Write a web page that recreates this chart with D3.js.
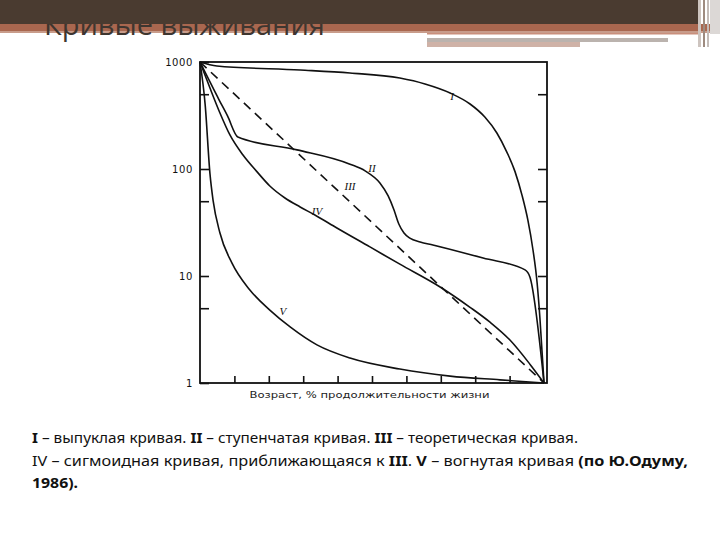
<!DOCTYPE html>
<html>
<head>
<meta charset="utf-8">
<script src="https://cdn.jsdelivr.net/npm/d3@7"></script>
<style>
  body { margin: 0; background: #fff; }
  svg { display: block; }
</style>
</head>
<body>
<div id="chart-area"></div>
<script>
// Survival curves (after Odum, 1986), log scale

var ageTicks = [10, 20, 30, 40, 50, 60, 70, 80, 90];
var survTicks = [1, 5, 10, 50, 100, 500, 1000];
var survLabels = [1, 10, 100, 1000];

// [age %, survivors]
var curveI = [[0,1000],[4.9,918],[29.1,842],[43.6,789],[58.1,708],[65.4,623],[72.7,513],[78.5,405],[82.8,306],[86.3,217],[89.2,144],[91.6,94],[93.6,57],[95.3,33.4],[96.8,17.5],[98,8.6],[98.8,4.1],[99.4,2.03],[100,1]];
var curveII = [[0,1000],[5.5,446],[8,313],[11,199],[28.2,151],[43.6,111],[48,96],[52.3,74],[54.7,56],[56.4,41.4],[57.8,30.6],[59.3,25.2],[61,22.6],[64,20.8],[67.7,19.5],[82.3,14.7],[94.5,11.4],[95.9,9.8],[100,1]];
var curveIII = [[0,1000],[100,1]];
var curveIV = [[0,1000],[2.9,571],[5.8,334],[8.7,208],[12.5,135],[16.6,94],[20.3,69.4],[24.7,53.6],[29.1,44.2],[33.4,37.2],[39.8,28.1],[49.4,18.7],[58.1,12.9],[69.8,7.9],[78.5,5.1],[84.3,3.7],[90.1,2.52],[95.9,1.5],[100,1]];
var curveV = [[0,1000],[1.5,400],[2.9,90],[3.8,51],[5.8,25.2],[9.3,13.2],[14.5,7.4],[20.3,4.8],[26.2,3.34],[34,2.27],[43.6,1.71],[58.1,1.35],[72.7,1.16],[87.2,1.07],[100,1]];

var curveNames = ["I", "II", "III", "IV", "V"];
// label anchor points [age %, survivors]
var labelPos = [[73.3,441],[50,94],[43.6,64],[34,37],[24.1,4.3]];

var captionLines = [
  [["I", true], [" – выпуклая кривая. ", false], ["II", true], [" – ступенчатая кривая. ", false], ["III", true], [" – теоретическая кривая.", false]],
  [["IV", false], [" – сигмоидная кривая, приближающаяся к ", false], ["III", true], [". ", false], ["V", true], [" – вогнутая кривая ", false], ["(по Ю.Одуму,", true]],
  [["1986).", true]]
];
var captionWidths = [546, 656, 46];

var svg = d3.select("#chart-area")
  .append("svg")
  .attr("width", 720)
  .attr("height", 540);

/* slide header */
svg.append("rect").attr("x", 0).attr("y", 24).attr("width", 712).attr("height", 8).attr("fill", "#a9674f");
svg.append("rect").attr("x", 0).attr("y", 31).attr("width", 712).attr("height", 2).attr("fill", "#c89c8b");
svg.append("text")
  .attr("x", 44)
  .attr("y", 35)
  .attr("font-family", "Open Sans, sans-serif")
  .attr("font-size", "29px")
  .attr("fill", "#3e3630")
  .text("Кривые выживания");
svg.append("rect").attr("x", 0).attr("y", 0).attr("width", 698).attr("height", 24).attr("fill", "#4a3b30");
svg.append("rect").attr("x", 427).attr("y", 33).attr("width", 273).attr("height", 1.5).attr("fill", "#c98f7c");
svg.append("rect").attr("x", 427).attr("y", 38).attr("width", 241).attr("height", 4).attr("fill", "#bbb3ae");
svg.append("rect").attr("x", 427).attr("y", 42).attr("width", 153).attr("height", 5).attr("fill", "#cfb2a7");
svg.append("rect").attr("x", 698).attr("y", 0).attr("width", 3).attr("height", 47).attr("fill", "#cdc4bf");
svg.append("rect").attr("x", 703).attr("y", 0).attr("width", 2).attr("height", 47).attr("fill", "#9e8b80");
svg.append("rect").attr("x", 707).attr("y", 0).attr("width", 2).attr("height", 47).attr("fill", "#c4bcb8");
svg.append("rect").attr("x", 710).attr("y", 0).attr("width", 10).attr("height", 34).attr("fill", "#dcd8d6");

/* scales */
var x = d3.scaleLinear().domain([0, 100]).range([200, 544]);
var y = d3.scaleLog().domain([1, 1000]).range([383, 62]);
var xRight = x(100) + 3;

var g = svg.append("g");

// frame
g.append("rect")
  .attr("x", x(0))
  .attr("y", y(1000))
  .attr("width", xRight - x(0))
  .attr("height", y(1) - y(1000))
  .attr("fill", "none")
  .attr("stroke", "#111")
  .attr("stroke-width", 1.8);

// left axis
var yAxisCall = d3.axisLeft(y)
  .tickValues(survTicks)
  .tickSizeInner(-9)
  .tickSizeOuter(0)
  .tickPadding(7)
  .tickFormat(function(d) { return survLabels.indexOf(d) >= 0 ? d : ""; });
var yAxis = g.append("g")
  .attr("transform", "translate(" + x(0) + ",0)")
  .call(yAxisCall);

// right axis (ticks only)
var yAxisRight = g.append("g")
  .attr("transform", "translate(" + xRight + ",0)")
  .call(d3.axisRight(y).tickValues(survTicks.slice(1, -1)).tickSizeInner(-9).tickSizeOuter(0).tickFormat(""));

// bottom axis
var xAxis = g.append("g")
  .attr("transform", "translate(0," + y(1) + ")")
  .call(d3.axisBottom(x).tickValues(ageTicks).tickSizeInner(-7).tickSizeOuter(0).tickFormat(""));

[yAxis, yAxisRight, xAxis].forEach(function(a) {
  a.select(".domain").remove();
  a.selectAll("line").attr("stroke", "#111").attr("stroke-width", 1.6);
});
yAxis.selectAll("text")
  .attr("font-family", "DejaVu Sans, sans-serif")
  .attr("font-size", "10px")
  .attr("letter-spacing", "0.6px")
  .attr("fill", "#111");

// x axis label
g.append("text")
  .attr("x", (x(0) + xRight) / 2 - 4)
  .attr("y", 398)
  .attr("text-anchor", "middle")
  .attr("font-family", "DejaVu Sans, sans-serif")
  .attr("font-size", "9.5px")
  .attr("textLength", 240)
  .attr("lengthAdjust", "spacingAndGlyphs")
  .attr("fill", "#222")
  .text("Возраст, % продолжительности жизни");

/* curves */
var line = d3.line()
  .x(function(d) { return x(d[0]); })
  .y(function(d) { return y(d[1]); })
  .curve(d3.curveMonotoneX);

var curves = [curveI, curveII, curveIII, curveIV, curveV];
g.selectAll("path.curve")
  .data(curves)
  .enter()
  .append("path")
    .attr("class", "curve")
    .attr("d", line)
    .attr("fill", "none")
    .attr("stroke", "#111")
    .attr("stroke-width", 1.6)
    .attr("stroke-dasharray", function(d, i) { return curveNames[i] === "III" ? "9,6" : null; });

// curve labels
g.selectAll("text.curve-label")
  .data(curveNames)
  .enter()
  .append("text")
    .attr("class", "curve-label")
    .attr("x", function(d, i) { return x(labelPos[i][0]); })
    .attr("y", function(d, i) { return y(labelPos[i][1]); })
    .attr("text-anchor", "middle")
    .attr("font-family", "Liberation Serif, serif")
    .attr("font-style", "italic")
    .attr("font-size", "11px")
    .attr("fill", "#111")
    .text(function(d) { return d; });

/* caption */
var caption = svg.append("g")
  .attr("font-family", "Noto Sans, sans-serif")
  .attr("font-size", "15px")
  .attr("fill", "#111");

captionLines.forEach(function(parts, i) {
  var t = caption.append("text")
    .attr("x", 32)
    .attr("y", 443 + i * 22.5)
    .attr("textLength", captionWidths[i])
    .attr("lengthAdjust", "spacingAndGlyphs");
  parts.forEach(function(p) {
    t.append("tspan")
      .attr("font-weight", p[1] ? "bold" : null)
      .text(p[0]);
  });
});
</script>
</body>
</html>
